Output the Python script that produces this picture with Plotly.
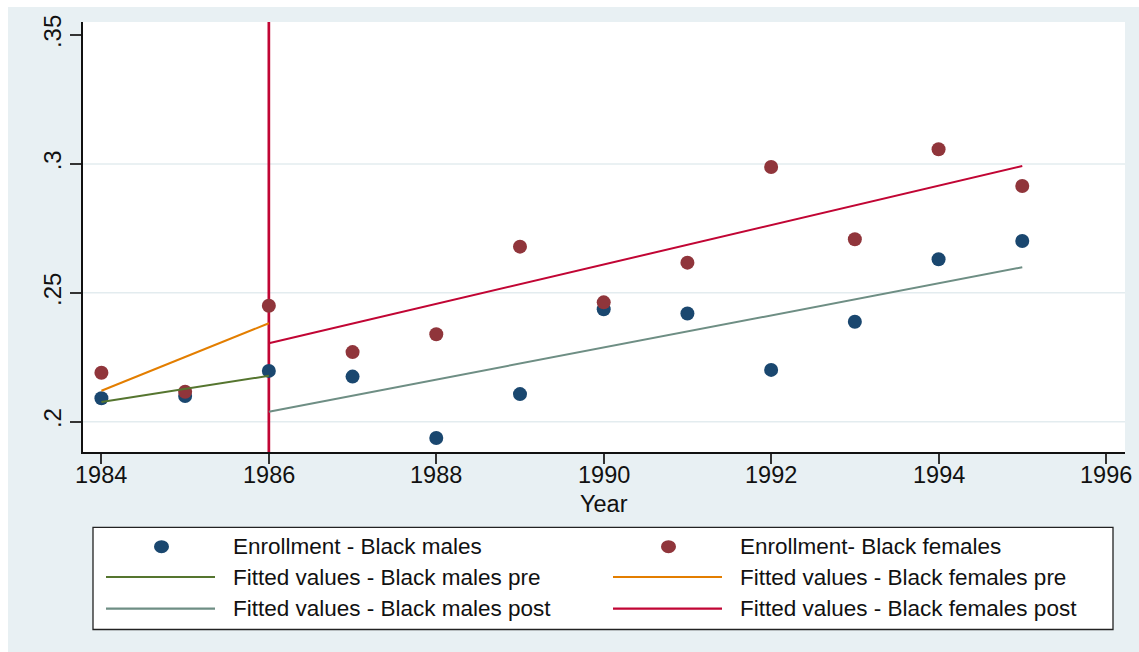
import plotly.graph_objects as go

# Enrollment rates by year
years = [1984, 1985, 1986, 1987, 1988, 1989, 1990, 1991, 1992, 1993, 1994, 1995]
black_males = [0.2091, 0.2100, 0.2197, 0.2175, 0.1937, 0.2107,
               0.2436, 0.2420, 0.2201, 0.2388, 0.2630, 0.2701]
black_females = [0.2190, 0.2116, 0.2450, 0.2270, 0.2339, 0.2679,
                 0.2463, 0.2617, 0.2988, 0.2708, 0.3057, 0.2914]

# Fitted values (endpoints of each linear fit)
pre_years = [1984, 1986]
post_years = [1986, 1995]
fit_males_pre = [0.2076, 0.2178]
fit_females_pre = [0.2120, 0.2382]
fit_males_post = [0.2039, 0.2599]
fit_females_post = [0.2304, 0.2992]

policy_year = 1986

x_ticks = [1984, 1986, 1988, 1990, 1992, 1994, 1996]
y_ticks = [0.2, 0.25, 0.3, 0.35]
y_tick_text = [".2", ".25", ".3", ".35"]
y_grid = [0.2, 0.25, 0.3]

x_range = [1983.78, 1996.227]
y_range = [0.18825, 0.35504]

NAVY = "#1a476f"
MAROON = "#90353b"
GREEN = "#55752f"
ORANGE = "#e37e00"
TEAL = "#6e8e84"
CRANBERRY = "#c10534"
BG = "#e8f0f3"
GRID = "#e3ecef"
TEXT = "#111"
FONT = "Liberation Sans, Arial, sans-serif"

W, H = 1139, 652
L, R, T, B = 83, 14, 22, 200
PW, PH = W - L - R, H - T - B


def px(xp):
    return (xp - L) / PW


def py(yp):
    return (H - B - yp) / PH


fig = go.Figure()

# Policy year reference line
fig.add_trace(go.Scatter(x=[policy_year, policy_year], y=y_range, mode="lines",
                         line=dict(color=CRANBERRY, width=2.7), hoverinfo="skip"))

fig.add_trace(go.Scatter(x=years, y=black_males, mode="markers",
                         marker=dict(color=NAVY, size=14, line=dict(width=0)),
                         name="Enrollment - Black males"))
fig.add_trace(go.Scatter(x=years, y=black_females, mode="markers",
                         marker=dict(color=MAROON, size=14, line=dict(width=0)),
                         name="Enrollment- Black females"))
fig.add_trace(go.Scatter(x=pre_years, y=fit_males_pre, mode="lines",
                         line=dict(color=GREEN, width=2),
                         name="Fitted values - Black males pre"))
fig.add_trace(go.Scatter(x=pre_years, y=fit_females_pre, mode="lines",
                         line=dict(color=ORANGE, width=2),
                         name="Fitted values - Black females pre"))
fig.add_trace(go.Scatter(x=post_years, y=fit_males_post, mode="lines",
                         line=dict(color=TEAL, width=2),
                         name="Fitted values - Black males post"))
fig.add_trace(go.Scatter(x=post_years, y=fit_females_post, mode="lines",
                         line=dict(color=CRANBERRY, width=2),
                         name="Fitted values - Black females post"))

shapes = []
annotations = []

# Horizontal gridlines
for gy in y_grid:
    shapes.append(dict(type="line", xref="paper", yref="y", x0=0, x1=1,
                       y0=gy, y1=gy, line=dict(color=GRID, width=1.5),
                       layer="below"))

# X tick labels, set close under the tick marks
for t in x_ticks:
    annotations.append(dict(text=str(t), xref="x", yref="paper", x=t,
                            y=py(474.5), xanchor="center", yanchor="middle",
                            showarrow=False,
                            font=dict(size=23.5, color=TEXT, family=FONT)))

# Axis title
annotations.append(dict(text="Year", xref="paper", yref="paper",
                        x=0.5, y=py(503.5), xanchor="center", yanchor="middle",
                        showarrow=False,
                        font=dict(size=23.5, color=TEXT, family=FONT)))

# Custom two-column legend box
legend_entries = [
    ("Enrollment - Black males", NAVY, "marker", 0, 0),
    ("Enrollment- Black females", MAROON, "marker", 1, 0),
    ("Fitted values - Black males pre", GREEN, "line", 0, 1),
    ("Fitted values - Black females pre", ORANGE, "line", 1, 1),
    ("Fitted values - Black males post", TEAL, "line", 0, 2),
    ("Fitted values - Black females post", CRANBERRY, "line", 1, 2),
]
col_line = [(106, 215), (613, 722)]
col_text = [231, 738]
row_y = [546.7, 577, 608.7]

shapes.append(dict(type="rect", xref="paper", yref="paper",
                   x0=px(93), x1=px(1113), y0=py(629.5), y1=py(527.3),
                   fillcolor="white", line=dict(color="#222", width=1.3),
                   layer="above"))
for label, color, kind, col, row in legend_entries:
    ly = py(row_y[row])
    x0, x1 = col_line[col]
    if kind == "line":
        shapes.append(dict(type="line", xref="paper", yref="paper",
                           x0=px(x0), x1=px(x1), y0=ly, y1=ly,
                           line=dict(color=color, width=2.2), layer="above"))
    else:
        cx = (x0 + x1) / 2 + 1
        shapes.append(dict(type="circle", xref="paper", yref="paper",
                           x0=px(cx - 7.5), x1=px(cx + 7.5),
                           y0=py(row_y[row] + 6.5), y1=py(row_y[row] - 6.5),
                           fillcolor=color, line=dict(width=0), layer="above"))
    annotations.append(dict(text=label, xref="paper", yref="paper",
                            x=px(col_text[col]), y=ly, xanchor="left",
                            yanchor="middle", showarrow=False,
                            font=dict(size=22.5, color=TEXT, family=FONT)))

# thin white border strips along the top and left edges
shapes.append(dict(type="rect", xref="paper", yref="paper", x0=px(0), x1=px(W),
                   y0=py(7), y1=py(0), fillcolor="white", line=dict(width=0),
                   layer="below"))
shapes.append(dict(type="rect", xref="paper", yref="paper", x0=px(0), x1=px(8),
                   y0=py(H), y1=py(0), fillcolor="white", line=dict(width=0),
                   layer="below"))

fig.update_layout(
    width=W, height=H,
    margin=dict(l=L, r=R, t=T, b=B, autoexpand=False),
    paper_bgcolor=BG, plot_bgcolor="white",
    showlegend=False,
    font=dict(family=FONT, color=TEXT),
    shapes=shapes, annotations=annotations,
    xaxis=dict(range=x_range, tickvals=x_ticks, showticklabels=False,
               ticks="outside", ticklen=10, tickwidth=1.5, tickcolor="#333",
               showline=True, linecolor=TEXT, linewidth=1.5, showgrid=False,
               zeroline=False, automargin=False),
    yaxis=dict(range=y_range, tickvals=y_ticks, ticktext=y_tick_text,
               tickangle=-90, ticks="outside", ticklen=11, tickwidth=1.5,
               tickcolor="#333", showline=True, linecolor=TEXT, linewidth=1.5,
               showgrid=False, zeroline=False, automargin=False,
               tickfont=dict(size=24, family=FONT, color=TEXT)),
)

fig.write_html("out.html")
